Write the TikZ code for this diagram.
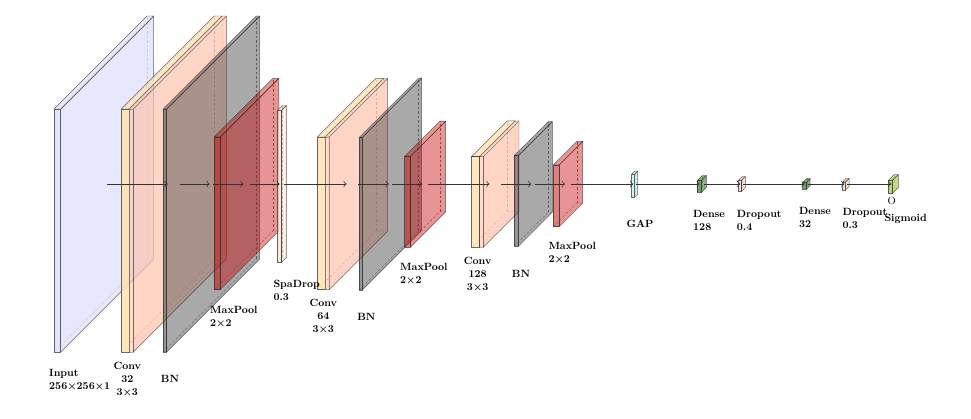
\documentclass[tikz,border=0pt]{standalone}
\usepackage{fontspec}
\usetikzlibrary{arrows.meta}
\definecolor{inC}{RGB}{225,225,252}
\definecolor{convC}{RGB}{255,226,178}
\definecolor{reluC}{RGB}{255,196,174}
\definecolor{bnC}{RGB}{64,64,64}
\definecolor{poolC}{RGB}{196,0,0}
\definecolor{sdC}{RGB}{250,226,205}
\definecolor{gapC}{RGB}{205,240,242}
\definecolor{denseC}{RGB}{95,150,95}
\definecolor{dropC}{RGB}{245,220,200}
\definecolor{outC}{RGB}{185,210,110}
\definecolor{edgeC}{RGB}{40,40,40}
\newcommand{\nnlayer}[6]{%
\pgfmathsetmacro\Lxa{#2}%
\pgfmathsetmacro\Lxb{#2+#3}%
\pgfmathsetmacro\Lyt{184+(#5)/2-(#4)/2}%
\pgfmathsetmacro\Lyb{184+(#5)/2+(#4)/2}%
\pgfmathsetmacro\Ld{#5}%
\draw[hidden] (\Lxa,\Lyb) -- (\Lxa+\Ld,\Lyb-\Ld) -- (\Lxb+\Ld,\Lyb-\Ld);
\draw[hidden] (\Lxa+\Ld,\Lyb-\Ld) -- (\Lxa+\Ld,\Lyt-\Ld);
\filldraw[face,#6side] (\Lxb,\Lyt) -- (\Lxb+\Ld,\Lyt-\Ld) -- (\Lxb+\Ld,\Lyb-\Ld) -- (\Lxb,\Lyb) -- cycle;
\filldraw[face,#6top] (\Lxa,\Lyt) -- (\Lxa+\Ld,\Lyt-\Ld) -- (\Lxb+\Ld,\Lyt-\Ld) -- (\Lxb,\Lyt) -- cycle;
\filldraw[face,#6front] (\Lxa,\Lyt) rectangle (\Lxb,\Lyb);
\coordinate (#1-w) at (\Lxa+\Ld/2,184);
\coordinate (#1-e) at (\Lxb+\Ld/2,184);
}
% conv box with a right band: name, x0, conv width, band width, height, depth
\newcommand{\nnconv}[6]{%
\pgfmathsetmacro\Lxa{#2}%
\pgfmathsetmacro\Lxm{#2+#3}%
\pgfmathsetmacro\Lxb{#2+#3+#4}%
\pgfmathsetmacro\Lyt{184+(#6)/2-(#5)/2}%
\pgfmathsetmacro\Lyb{184+(#6)/2+(#5)/2}%
\pgfmathsetmacro\Ld{#6}%
\draw[hidden] (\Lxa,\Lyb) -- (\Lxa+\Ld,\Lyb-\Ld) -- (\Lxb+\Ld,\Lyb-\Ld);
\draw[hidden] (\Lxa+\Ld,\Lyb-\Ld) -- (\Lxa+\Ld,\Lyt-\Ld);
\draw[hidden, draw opacity=0.5] (\Lxm,\Lyb) -- (\Lxm+\Ld,\Lyb-\Ld) -- (\Lxm+\Ld,\Lyt-\Ld);
\filldraw[face,convside] (\Lxb,\Lyt) -- (\Lxb+\Ld,\Lyt-\Ld) -- (\Lxb+\Ld,\Lyb-\Ld) -- (\Lxb,\Lyb) -- cycle;
\filldraw[face,convtop] (\Lxa,\Lyt) -- (\Lxa+\Ld,\Lyt-\Ld) -- (\Lxm+\Ld,\Lyt-\Ld) -- (\Lxm,\Lyt) -- cycle;
\filldraw[face,bandtop] (\Lxm,\Lyt) -- (\Lxm+\Ld,\Lyt-\Ld) -- (\Lxb+\Ld,\Lyt-\Ld) -- (\Lxb,\Lyt) -- cycle;
\filldraw[face,convfront] (\Lxa,\Lyt) rectangle (\Lxm,\Lyb);
\filldraw[face,bandfront] (\Lxm,\Lyt) rectangle (\Lxb,\Lyb);
\coordinate (#1-w) at (\Lxa+\Ld/2,184);
\coordinate (#1-e) at (\Lxb+\Ld/2,184);
}
\tikzset{
 face/.style={draw=edgeC, draw opacity=0.7, line width=0.45pt, line join=round},
 hidden/.style={draw=black!55, dash pattern=on 2.5pt off 2pt, line width=0.4pt},
 inputside/.style={fill=inC, fill opacity=0.8},
 inputtop/.style={fill=inC, fill opacity=0.8},
 inputfront/.style={fill=inC, fill opacity=0.9},
 convside/.style={fill=reluC, fill opacity=0.7},
 convtop/.style={fill=convC, fill opacity=0.8},
 convfront/.style={fill=convC, fill opacity=0.85},
 bandtop/.style={fill=reluC, fill opacity=0.6, draw opacity=0.35},
 bandfront/.style={fill=reluC, fill opacity=0.6, draw opacity=0.35},
 bnside/.style={fill=bnC, fill opacity=0.45},
 bntop/.style={fill=bnC, fill opacity=0.45},
 bnfront/.style={fill=bnC, fill opacity=0.55},
 poolside/.style={fill=poolC, fill opacity=0.42},
 pooltop/.style={fill=poolC, fill opacity=0.42},
 poolfront/.style={fill=poolC, fill opacity=0.5},
 sdside/.style={fill=sdC, fill opacity=0.6},
 sdtop/.style={fill=sdC, fill opacity=0.6},
 sdfront/.style={fill=sdC, fill opacity=0.7},
 gapside/.style={fill=gapC, fill opacity=0.8},
 gaptop/.style={fill=gapC, fill opacity=0.8},
 gapfront/.style={fill=gapC, fill opacity=0.9},
 denseside/.style={fill=denseC, fill opacity=0.75},
 densetop/.style={fill=denseC, fill opacity=0.75},
 densefront/.style={fill=denseC, fill opacity=0.9},
 dropside/.style={fill=dropC, fill opacity=0.8},
 droptop/.style={fill=dropC, fill opacity=0.8},
 dropfront/.style={fill=dropC, fill opacity=0.9},
 outside/.style={fill=outC, fill opacity=0.8},
 outtop/.style={fill=outC, fill opacity=0.8},
 outfront/.style={fill=outC, fill opacity=0.9},
 conn/.style={draw=black!80, line width=0.55pt, -{To[length=3.2pt,width=6.5pt]}},
 lab/.style={font=\fontsize{10.5}{13}\selectfont\bfseries, inner sep=0pt},
}
\begin{document}
\begin{tikzpicture}[x=1pt,y=-1pt]
\useasboundingbox (0,0) rectangle (971,419);
\nnlayer{in}{54}{6.7}{243}{93}{input}
\nnconv{c1}{121.3}{8}{4}{243}{93}
\nnlayer{bn1}{163.3}{3.4}{243}{93}{bn}
\nnlayer{p1}{214.3}{6}{152.6}{58.5}{pool}
\nnlayer{sd}{277.3}{4}{152}{5}{sd}
\nnconv{c2}{317.3}{8}{3.7}{152.7}{58.7}
\nnlayer{bn2}{359.3}{3}{152.7}{59.3}{bn}
\nnlayer{p2}{404.7}{6}{90.6}{35}{pool}
\nnconv{c3}{471.7}{8}{3.6}{90.6}{35.7}
\nnlayer{bn3}{514.3}{4}{90.6}{34}{bn}
\nnlayer{p3}{553.3}{6}{61.7}{23.4}{pool}
\nnlayer{gap}{631.7}{3}{23}{3}{gap}
\nnlayer{d1}{697.3}{4}{12}{5}{dense}
\nnlayer{do1}{738.3}{3}{11}{4}{drop}
\nnlayer{d2}{802.7}{3.5}{7}{4}{dense}
\nnlayer{do2}{842.7}{3}{8}{3.5}{drop}
\nnlayer{out}{888.3}{4}{13}{6}{out}
% connections
\draw[conn] (in-e) -- (c1-w);
\draw[conn] (c1-e) -- (bn1-w);
\draw[conn] (bn1-e) -- (p1-w);
\draw[conn] (p1-e) -- (sd-w);
\draw[conn] (sd-e) -- (c2-w);
\draw[conn] (c2-e) -- (bn2-w);
\draw[conn] (bn2-e) -- (p2-w);
\draw[conn] (p2-e) -- (c3-w);
\draw[conn] (c3-e) -- (bn3-w);
\draw[conn] (bn3-e) -- (p3-w);
\draw[conn] (p3-e) -- (gap-w);
\draw[conn] (gap-e) -- (d1-w);
\draw[conn] (d1-e) -- (do1-w);
\draw[conn] (do1-e) -- (d2-w);
\draw[conn] (d2-e) -- (do2-w);
\draw[conn] (do2-e) -- (out-w);
% labels
\node[lab, anchor=west, align=left] (inL) at (49,379.3) {Input\\256×256×1};
\node[lab, align=center] (c1L) at (127.3,379.3) {Conv\\32\\3×3};
\node[lab] (bn1L) at (170,379.3) {BN};
\node[lab, anchor=west, align=left] (p1L) at (210,316.3) {MaxPool\\2×2};
\node[lab, anchor=west, align=left] (sdL) at (273.3,290) {SpaDrop\\0.3};
\node[lab, align=center] (c2L) at (323.3,316) {Conv\\64\\3×3};
\node[lab] (bn2L) at (366.3,316.7) {BN};
\node[lab, anchor=west, align=left] (p2L) at (400,273.7) {MaxPool\\2×2};
\node[lab, align=center] (c3L) at (477.7,273.7) {Conv\\128\\3×3};
\node[lab] (bn3L) at (521,274.3) {BN};
\node[lab, anchor=west, align=left] (p3L) at (548.3,252.7) {MaxPool\\2×2};
\node[lab] (gapL) at (640,224.3) {GAP};
\node[lab, anchor=west, align=left] (d1L) at (693,220) {Dense\\128};
\node[lab, anchor=west, align=left] (do1L) at (736.7,220) {Dropout\\0.4};
\node[lab, anchor=west, align=left] (d2L) at (799,217.5) {Dense\\32};
\node[lab, anchor=west, align=left] (do2L) at (842.3,218) {Dropout\\0.3};
\node[lab, font=\fontsize{10.5}{13}\selectfont] (outO) at (891.7,201) {O};
\node[lab, anchor=west] (outL) at (884.3,219) {Sigmoid};
\end{tikzpicture}
\end{document}
